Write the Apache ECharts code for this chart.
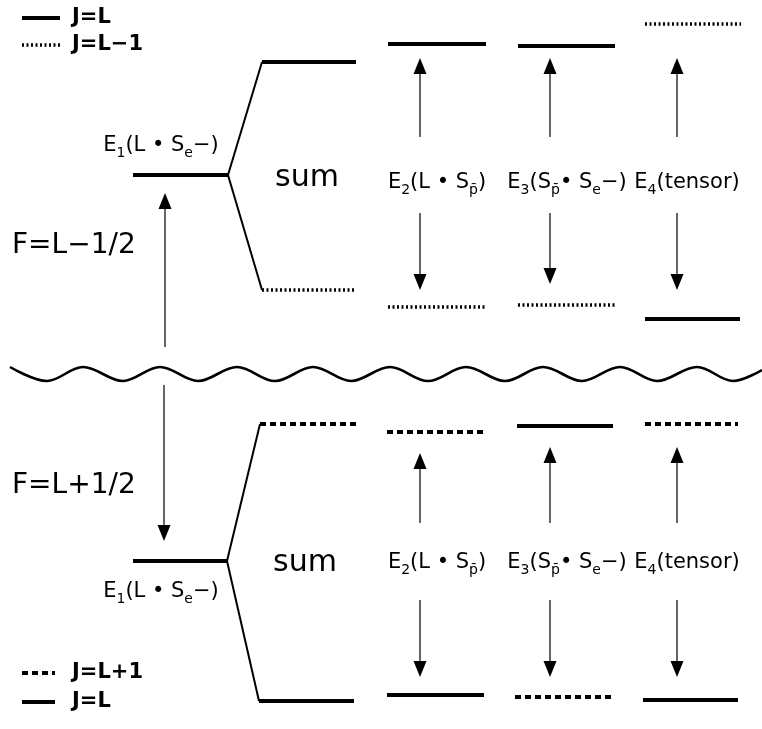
<!DOCTYPE html>
<html><head><meta charset="utf-8">
<script src="https://cdn.jsdelivr.net/npm/echarts@6/dist/echarts.min.js"></script>
<style>html,body{margin:0;padding:0;background:#fff}#c{width:762px;height:729px}</style>
</head><body><div id="c"></div>
<script>
// Energy levels, [xStart, xEnd, level]  (diagram units)
const levelsJL   = [[133,228,175],[262,356,62],[388,486,44],[518,615,46],[645,740,319],
                    [133,227,561],[259,354,701],[387,484,695],[517,613,426],[643,738,700]];
const levelsJLm1 = [[262,356,290],[388,486,307],[518,615,305],[645,741,24]];
const levelsJLp1 = [[260,357,424],[387,485,432],[515,615,697],[645,738,424]];
// legend samples
const legendJL   = [[22,60,18],[22,55,702]];
const legendJLm1 = [[22,60,45]];
const legendJLp1 = [[22,55,673]];
// sum splitting connectors [x0,y0,x1,y1]
const splitLines = [[228,175,262,62],[228,175,262,290],[227,561,260,424],[227,561,259,701]];
// arrows [x, yStart, yTip]
const arrows = [[165,347,193],[164,385,541],
  [420,137,58],[420,213,290],[550,137,58],[550,213,284],[677,137,58],[677,213,290],
  [420,523,453],[420,600,677],[550,523,447],[550,600,677],[677,523,447],[677,600,677]];
// break wave extremes
const waveX = [10,47,83,123,160,198,237,275,313,351,390,428,466,505,543,582,620,657,697,733,762];
const waveY = [367,381,367,381,367,381,367,381,367,381,367,381,367,381,367,381,367,381,367,381,370];
// labels
const centerText = [
  '{n|E}{s|1}{n|(L • S}{s|e}{n|−)}', 'sum', '{n|E}{s|2}{n|(L • S}{s|p\u0304}{n|)}', '{n|E}{s|3}{n|(S}{s|p\u0304}{n|• S}{s|e}{n|−)}', '{n|E}{s|4}{n|(tensor)}',
  '{n|E}{s|1}{n|(L • S}{s|e}{n|−)}', 'sum', '{n|E}{s|2}{n|(L • S}{s|p\u0304}{n|)}', '{n|E}{s|3}{n|(S}{s|p\u0304}{n|• S}{s|e}{n|−)}', '{n|E}{s|4}{n|(tensor)}'];
const centerX = [161,307,437,567,687, 161,305,437,567,687];
const centerY = [146,178,183,183,183, 592,563,563,563,563];
const leftText = ['J=L','J=L−1','F=L−1/2','F=L+1/2','J=L+1','J=L'];
const leftX = [72,72,12,12,72,72];
const leftY = [18,45,246,486,673,702];

const FONT = 'DejaVu Sans';
function levelSeries(data, width, dash){
  return {type:'custom', coordinateSystem:'cartesian2d', clip:false, silent:true,
    data: data, encode:{x:[0,1], y:2},
    renderItem: function(params, api){
      const p0 = api.coord([api.value(0), api.value(2)]);
      const p1 = api.coord([api.value(1), api.value(2)]);
      return {type:'line', shape:{x1:p0[0],y1:p0[1],x2:p1[0],y2:p1[1]},
        style:{stroke:'#000', lineWidth:width, lineDash:dash, lineCap:'butt'}};
    }};
}
const richSt = {
  n:{fontSize:21, fontFamily:FONT, lineHeight:28, fill:'#000'},
  s:{fontSize:14, fontFamily:FONT, lineHeight:14, verticalAlign:'bottom', fill:'#000'}
};

const chart = echarts.init(document.getElementById('c'), null, {renderer:'canvas'});
chart.setOption({
  animation:false,
  backgroundColor:'#fff',
  grid:{left:0,right:0,top:0,bottom:0},
  xAxis:{type:'value', min:0, max:762, show:false},
  yAxis:{type:'value', min:0, max:729, inverse:true, show:false},
  series:[
    levelSeries(levelsJL, 4, null),
    levelSeries(legendJL, 4, null),
    levelSeries(levelsJLm1, 3.5, [2,2.5]),
    levelSeries(legendJLm1, 3.5, [2,2.5]),
    levelSeries(levelsJLp1, 4, [6,4]),
    levelSeries(legendJLp1, 4, [6,4]),
    {type:'custom', coordinateSystem:'cartesian2d', clip:false, silent:true,
     data: splitLines, encode:{x:[0,2], y:[1,3]},
     renderItem: function(params, api){
       const a = api.coord([api.value(0), api.value(1)]);
       const b = api.coord([api.value(2), api.value(3)]);
       return {type:'line', shape:{x1:a[0],y1:a[1],x2:b[0],y2:b[1]}, style:{stroke:'#000', lineWidth:2}};
     }},
    {type:'custom', coordinateSystem:'cartesian2d', clip:false, silent:true,
     data: arrows, encode:{x:0, y:[1,2]},
     renderItem: function(params, api){
       const s = api.coord([api.value(0), api.value(1)]);
       const t = api.coord([api.value(0), api.value(2)]);
       const dir = t[1] < s[1] ? 1 : -1;
       const hl = 16, hw = 6.5;
       const base = t[1] + dir*hl;
       return {type:'group', children:[
         {type:'line', shape:{x1:s[0],y1:s[1],x2:t[0],y2:base}, style:{stroke:'#000', lineWidth:1.2}},
         {type:'polygon', shape:{points:[[t[0],t[1]],[t[0]-hw,base],[t[0]+hw,base]]}, style:{fill:'#000'}}
       ]};
     }},
    {type:'line', smooth:0.36, symbol:'none', silent:true, clip:false,
     data: waveX.map((x,i)=>[x, waveY[i]]),
     lineStyle:{color:'#000', width:2.6}},
    {type:'custom', coordinateSystem:'cartesian2d', clip:false, silent:true,
     data: centerX.map((x,i)=>[x, centerY[i]]), encode:{x:0,y:1},
     renderItem: function(params, api){
       const p = api.coord([api.value(0), api.value(1)]);
       const txt = centerText[params.dataIndex];
       const isSum = txt === 'sum';
       return {type:'text', x:p[0], y:p[1], style:{
         text: txt, fill:'#000', fontFamily:FONT, fontSize: isSum ? 30 : 21,
         align:'center', verticalAlign:'middle', rich: richSt}};
     }},
    {type:'custom', coordinateSystem:'cartesian2d', clip:false, silent:true,
     data: leftX.map((x,i)=>[x, leftY[i]]), encode:{x:0,y:1},
     renderItem: function(params, api){
       const p = api.coord([api.value(0), api.value(1)]);
       const txt = leftText[params.dataIndex];
       const big = txt.charAt(0) === 'F';
       return {type:'text', x:p[0], y:p[1], style:{
         text: txt, fill:'#000', fontFamily:FONT, fontSize: big ? 28 : 21,
         fontWeight: big ? 'normal' : 'bold',
         align:'left', verticalAlign:'middle'}};
     }}
  ]
});
</script></body></html>
